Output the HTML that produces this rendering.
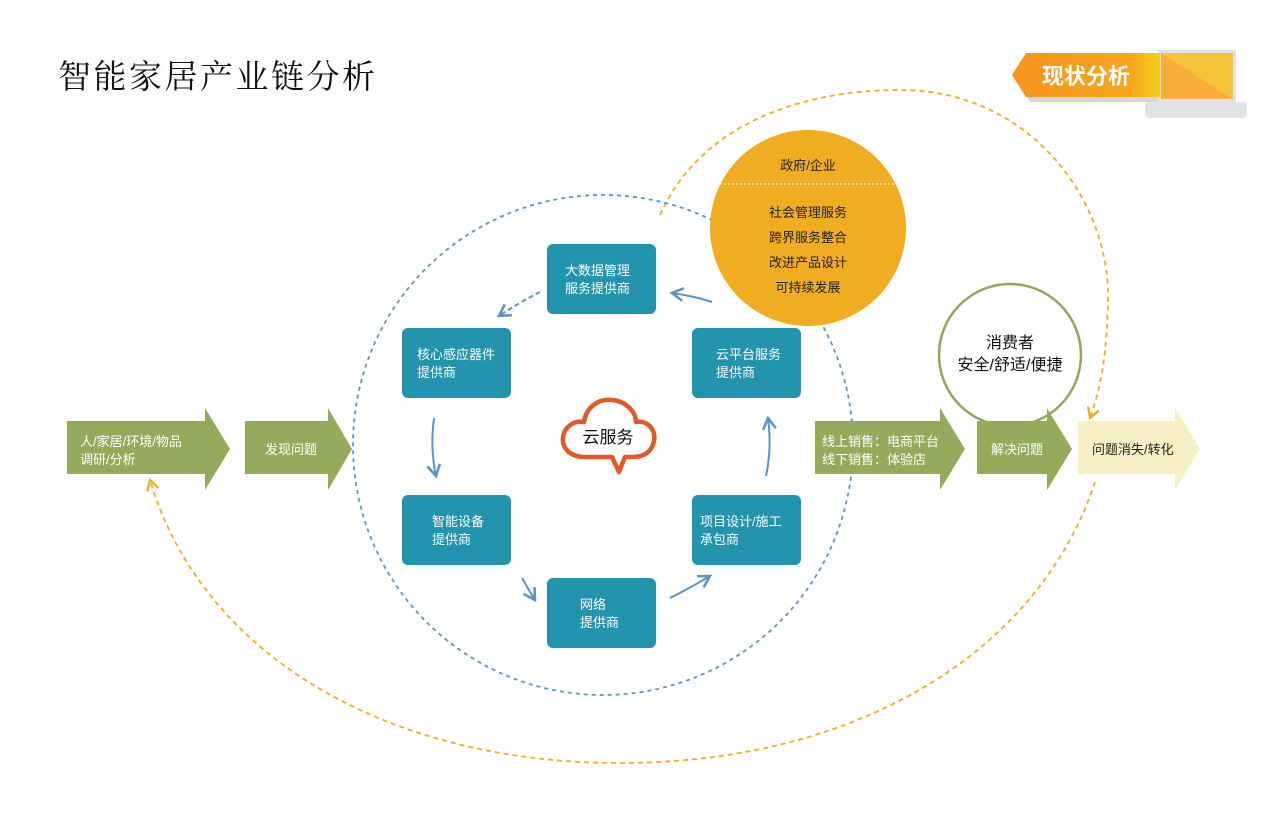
<!DOCTYPE html>
<html><head><meta charset="utf-8"><style>
html,body{margin:0;padding:0;background:#fff;}
svg{display:block;font-family:"Liberation Sans","Noto Sans CJK SC",sans-serif;}
</style></head><body>
<svg width="1278" height="824" viewBox="0 0 1278 824" xmlns="http://www.w3.org/2000/svg">
<defs>
<linearGradient id="bg" x1="0" x2="1" y1="0" y2="0"><stop offset="0" stop-color="#f7941d"/><stop offset="0.8" stop-color="#f9a51f"/><stop offset="1" stop-color="#f5d01a"/></linearGradient>
<marker id="ob" viewBox="0 0 10 10" refX="8" refY="5" markerWidth="8" markerHeight="8" orient="auto"><path d="M1,1 L8,5 L1,9" fill="none" stroke="#f0ad22" stroke-width="1.6"/></marker>
<marker id="bb" viewBox="0 0 10 10" refX="8" refY="5" markerWidth="8" markerHeight="8" orient="auto"><path d="M1,1 L8,5 L1,9" fill="none" stroke="#5b95c7" stroke-width="1.6"/></marker>
</defs>
<text x="58" y="88" font-family="'Noto Serif CJK SC',serif" font-size="33" letter-spacing="2.5" fill="#111">智能家居产业链分析</text>

<!-- badge -->
<rect x="1145" y="102" width="102" height="16" rx="3" fill="#e2e3e4"/>
<rect x="1158" y="50" width="78" height="52" fill="#e2e3e4"/>
<polygon points="1161,53 1233,53 1233,99 1161,99" fill="#f9ae3b"/>
<polygon points="1161,53 1233,53 1233,99" fill="#f6c43b"/>
<polygon points="1016,80 1030,60 1158,60 1158,102 1030,102" fill="#d6d6d6"/>
<polygon points="1012,75 1026,53 1160,53 1160,97 1026,97" fill="url(#bg)"/>
<text x="1042" y="84" font-size="22" font-weight="bold" fill="#fff">现状分析</text>

<!-- orange dashed spiral -->
<path d="M660,215 C700,125 800,90 900,90 C1030,90 1110,200 1108,300 C1107,350 1102,385 1090,418" fill="none" stroke="#f0ad22" stroke-width="1.8" stroke-dasharray="5,4" marker-end="url(#ob)"/>
<path d="M1095,482 C1040,650 860,763 620,763 C380,763 200,650 150,480" fill="none" stroke="#f0ad22" stroke-width="1.8" stroke-dasharray="5,4" marker-end="url(#ob)"/>

<!-- blue dashed circle -->
<circle cx="603" cy="445" r="250" fill="none" stroke="#5b95c7" stroke-width="1.8" stroke-dasharray="4,4"/>

<!-- gold circle -->
<circle cx="808" cy="228" r="98" fill="#f0ad22"/>
<g font-size="13" fill="#222" text-anchor="middle">
<text x="808" y="170">政府/企业</text>
<line x1="720" y1="184" x2="896" y2="184" stroke="#fff" stroke-dasharray="2,2"/>
<text x="808" y="217">社会管理服务</text>
<text x="808" y="242">跨界服务整合</text>
<text x="808" y="267">改进产品设计</text>
<text x="808" y="292">可持续发展</text>
</g>

<!-- green circle -->
<circle cx="1010" cy="355" r="71" fill="#fff" stroke="#8fa95a" stroke-width="2.5"/>
<text x="1010" y="348" font-size="16" text-anchor="middle" fill="#111">消费者</text>
<text x="1010" y="370" font-size="16" text-anchor="middle" fill="#111">安全/舒适/便捷</text>

<!-- teal boxes -->
<g fill="#2394ae">
<rect x="547" y="244" width="109" height="70" rx="6"/>
<rect x="402" y="328" width="109" height="70" rx="6"/>
<rect x="692" y="328" width="109" height="70" rx="6"/>
<rect x="402" y="495" width="109" height="70" rx="6"/>
<rect x="692" y="495" width="109" height="70" rx="6"/>
<rect x="547" y="578" width="109" height="70" rx="6"/>
</g>
<g font-size="13" fill="#fff">
<text x="565" y="275">大数据管理</text><text x="565" y="293">服务提供商</text>
<text x="417" y="359">核心感应器件</text><text x="417" y="377">提供商</text>
<text x="716" y="359">云平台服务</text><text x="716" y="377">提供商</text>
<text x="432" y="526">智能设备</text><text x="432" y="544">提供商</text>
<text x="700" y="526">项目设计/施工</text><text x="700" y="544">承包商</text>
<text x="580" y="609">网络</text><text x="580" y="627">提供商</text>
</g>
<g fill="none" stroke="#5b95c7" stroke-width="2">
<path d="M540,292 Q520,302 499,316" stroke-dasharray="5,3" marker-end="url(#bb)"/>
<path d="M434,418 Q430,448 436,476" marker-end="url(#bb)"/>
<path d="M522,578 Q530,592 535,600" marker-end="url(#bb)"/>
<path d="M670,598 Q690,588 710,576" marker-end="url(#bb)"/>
<path d="M766,476 Q772,448 768,418" marker-end="url(#bb)"/>
<path d="M712,302 Q694,296 672,293" marker-end="url(#bb)"/>
</g>

<!-- cloud -->
<path d="M588,457 C570,458 562,448 563,438 C564,427 574,420 584,422 C586,408 598,398 612,400 C626,401 636,412 636,422 C648,420 656,430 654,441 C652,452 644,457 632,457 L625,457 L619,472 L612,457 Z" fill="#fff" stroke="#e05a27" stroke-width="4.5" stroke-linejoin="round"/>
<text x="608" y="443" font-size="17" text-anchor="middle" fill="#111">云服务</text>

<!-- green arrows -->
<g fill="#94ab5b">
<polygon points="67,421 205,421 205,408 230,449 205,490 205,474 67,474"/>
<polygon points="245,421 328,421 328,408 352,449 328,490 328,474 245,474"/>
<polygon points="815,421 940,421 940,408 965,449 940,490 940,474 815,474"/>
<polygon points="977,421 1047,421 1047,408 1072,449 1047,490 1047,474 977,474"/>
</g>
<polygon points="1078,421 1175,421 1175,408 1200,449 1175,490 1175,474 1078,474" fill="#f6f0c4"/>
<g font-size="13" fill="#fff">
<text x="80" y="446">人/家居/环境/物品</text><text x="80" y="464">调研/分析</text>
<text x="265" y="454">发现问题</text>
<text x="822" y="446">线上销售：电商平台</text><text x="822" y="464">线下销售：体验店</text>
<text x="991" y="454">解决问题</text>
</g>
<text x="1092" y="454" font-size="13" fill="#222">问题消失/转化</text>
</svg>
</body></html>
